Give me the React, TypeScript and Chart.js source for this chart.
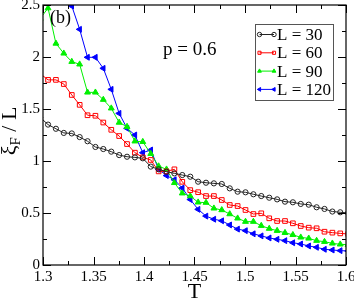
import React, { useEffect, useRef } from "react";
import { Chart, registerables } from "chart.js";
import { drawPoint } from "chart.js/helpers";

Chart.register(...registerables);

// Temperatures (first and last lie just outside the visible window)
const T = [
  1.2972, 1.305, 1.3128, 1.3206, 1.3285, 1.3363, 1.3441, 1.3519, 1.3597, 1.3676,
  1.3754, 1.3832, 1.391, 1.3988, 1.4067, 1.4145, 1.4223, 1.4301, 1.4379, 1.4458,
  1.4536, 1.4614, 1.4692, 1.477, 1.4849, 1.4927, 1.5005, 1.5083, 1.5161, 1.524,
  1.5318, 1.5396, 1.5474, 1.5552, 1.5631, 1.5709, 1.5787, 1.5865, 1.5943, 1.6021,
];

const L30 = [
  1.42, 1.35, 1.31, 1.27, 1.265, 1.23, 1.19, 1.135, 1.115, 1.09,
  1.057, 1.041, 1.035, 1.026, 0.946, 0.92, 0.897, 0.881, 0.865, 0.849,
  0.801, 0.791, 0.785, 0.779, 0.737, 0.705, 0.699, 0.68, 0.663, 0.647,
  0.631, 0.609, 0.603, 0.587, 0.58, 0.555, 0.539, 0.514, 0.507, 0.5,
];
const L60 = [
  1.84, 1.78, 1.78, 1.74, 1.635, 1.54, 1.44, 1.435, 1.37, 1.3,
  1.24, 1.163, 1.08, 1.035, 1.01, 0.9, 0.9, 0.92, 0.8, 0.72,
  0.7, 0.663, 0.663, 0.625, 0.577, 0.567, 0.529, 0.49, 0.497, 0.449,
  0.423, 0.423, 0.401, 0.375, 0.359, 0.353, 0.32, 0.311, 0.304, 0.298,
];
const L90 = [
  2.37, 2.47, 2.13, 2.035, 1.955, 1.93, 1.66, 1.66, 1.59, 1.507,
  1.37, 1.33, 1.19, 1.185, 1.07, 0.95, 0.92, 0.79, 0.69, 0.663,
  0.603, 0.6, 0.545, 0.529, 0.49, 0.449, 0.417, 0.417, 0.378, 0.35,
  0.33, 0.31, 0.29, 0.266, 0.256, 0.234, 0.224, 0.208, 0.199, 0.195,
];
const L120 = [
  3.4, 3.3, 3.15, 2.95, 2.49, 2.266, 1.997, 1.997, 1.891, 1.689,
  1.458, 1.314, 1.25, 1.08, 1.106, 0.92, 0.86, 0.82, 0.74, 0.63,
  0.535, 0.47, 0.44, 0.425, 0.385, 0.345, 0.33, 0.3, 0.28, 0.26,
  0.247, 0.234, 0.214, 0.202, 0.183, 0.17, 0.151, 0.144, 0.138, 0.135,
];

const seriesLabels = ["L = 30", "L = 60", "L = 90", "L = 120"];
const xTickValues = [1.3, 1.35, 1.4, 1.45, 1.5, 1.55, 1.6];
const xTickLabels = ["1.3", "1.35", "1.4", "1.45", "1.5", "1.55", "1.6"];
const yTickValues = [0, 0.5, 1, 1.5, 2, 2.5];
const yTickLabels = ["0", "0.5", "1", "1.5", "2", "2.5"];

const SERIF = '"Liberation Serif", "Times New Roman", serif';

const styles = [
  { color: "#222222", fill: "rgba(0,0,0,0)", pointStyle: "circle", radius: 2.6, rotation: 0 },
  { color: "#ff0000", fill: "rgba(0,0,0,0)", pointStyle: "rect", radius: 3.3, rotation: 0 },
  { color: "#00f000", fill: "#00f000", pointStyle: "triangle", radius: 3.4, rotation: 0 },
  { color: "#0000ff", fill: "#0000ff", pointStyle: "triangle", radius: 3.4, rotation: -90 },
];

const decorPlugin = {
  id: "decor",
  afterDraw(chart: any) {
    const ctx: CanvasRenderingContext2D = chart.ctx;
    const { left, right, top, bottom } = chart.chartArea;
    const xs = chart.scales.x;
    const ys = chart.scales.y;
    ctx.save();
    // frame
    ctx.strokeStyle = "#000";
    ctx.lineWidth = 1.2;
    ctx.strokeRect(left, top, right - left, bottom - top);
    // ticks
    ctx.lineWidth = 1;
    const xMinor: number[] = [];
    for (let i = 0; i < xTickValues.length - 1; i++) xMinor.push((xTickValues[i] + xTickValues[i + 1]) / 2);
    const yMinor: number[] = [];
    for (let i = 0; i < yTickValues.length - 1; i++) yMinor.push((yTickValues[i] + yTickValues[i + 1]) / 2);
    const drawX = (v: number, len: number) => {
      const px = Math.round(xs.getPixelForValue(v)) + 0.5;
      ctx.beginPath();
      ctx.moveTo(px, bottom);
      ctx.lineTo(px, bottom - len);
      ctx.moveTo(px, top);
      ctx.lineTo(px, top + len);
      ctx.stroke();
    };
    const drawY = (v: number, len: number) => {
      const py = Math.round(ys.getPixelForValue(v)) + 0.5;
      ctx.beginPath();
      ctx.moveTo(left, py);
      ctx.lineTo(left + len, py);
      ctx.moveTo(right, py);
      ctx.lineTo(right - len, py);
      ctx.stroke();
    };
    xTickValues.forEach((v) => drawX(v, 8));
    xMinor.forEach((v) => drawX(v, 4));
    yTickValues.forEach((v) => drawY(v, 8));
    yMinor.forEach((v) => drawY(v, 4));

    // tick labels
    ctx.fillStyle = "#000";
    ctx.font = `15px ${SERIF}`;
    ctx.textAlign = "center";
    ctx.textBaseline = "alphabetic";
    xTickValues.forEach((v, i) => {
      ctx.fillText(xTickLabels[i], xs.getPixelForValue(v), bottom + 16);
    });
    ctx.textAlign = "right";
    ctx.textBaseline = "middle";
    yTickValues.forEach((v, i) => {
      ctx.fillText(yTickLabels[i], left - 3, ys.getPixelForValue(v));
    });

    // x title
    ctx.textAlign = "center";
    ctx.textBaseline = "alphabetic";
    ctx.font = `22px ${SERIF}`;
    ctx.fillText("T", (left + right) / 2, 298);

    // y title (rotated) : ξ_F / L
    ctx.save();
    ctx.translate(16, (top + bottom) / 2 - 4);
    ctx.rotate(-Math.PI / 2);
    ctx.textAlign = "left";
    ctx.textBaseline = "alphabetic";
    const big = `22px ${SERIF}`;
    const small = `15px ${SERIF}`;
    ctx.font = big;
    const w1 = ctx.measureText("ξ").width;
    ctx.font = small;
    const w2 = ctx.measureText("F").width;
    ctx.font = big;
    const w3 = ctx.measureText(" / L").width;
    let x0 = -(w1 + w2 + w3) / 2;
    ctx.font = big;
    ctx.fillText("ξ", x0, 0);
    x0 += w1;
    ctx.font = small;
    ctx.fillText("F", x0, 4);
    x0 += w2;
    ctx.font = big;
    ctx.fillText(" / L", x0, 0);
    ctx.restore();

    // annotations
    ctx.textAlign = "left";
    ctx.font = `18px ${SERIF}`;
    ctx.fillText("(b)", 50, 23);
    ctx.font = `19px ${SERIF}`;
    ctx.fillText("p = 0.6", 163, 55);

    // legend
    const bx = 255, by = 24, bw = 78, bh = 76;
    ctx.fillStyle = "#fff";
    ctx.fillRect(bx, by, bw, bh);
    ctx.strokeStyle = "#555";
    ctx.lineWidth = 1;
    ctx.strokeRect(bx + 0.5, by + 0.5, bw, bh);
    ctx.font = `17px ${SERIF}`;
    ctx.textBaseline = "middle";
    seriesLabels.forEach((lab, i) => {
      const cy = 34.5 + i * 18.3;
      const st = styles[i];
      ctx.strokeStyle = st.color;
      ctx.lineWidth = 1;
      ctx.beginPath();
      ctx.moveTo(259.5, cy);
      ctx.lineTo(274, cy);
      ctx.stroke();
      [259.5, 274].forEach((mx) => {
        ctx.strokeStyle = st.color;
        ctx.fillStyle = st.fill;
        drawPoint(ctx, { pointStyle: st.pointStyle, radius: 2.2, rotation: st.rotation, borderWidth: 1 } as any, mx, cy);
      });
      ctx.fillStyle = "#000";
      ctx.fillText(lab, 277, cy + 1);
    });
    ctx.restore();
  },
};

export default function App() {
  const ref = useRef<HTMLCanvasElement | null>(null);
  useEffect(() => {
    if (!ref.current) return;
    const series = [L30, L60, L90, L120];
    const chart = new Chart(ref.current, {
      type: "line",
      data: {
        datasets: series.map((vals, i) => ({
          label: seriesLabels[i],
          data: T.map((t, j) => ({ x: t, y: vals[j] })),
          borderColor: styles[i].color,
          backgroundColor: styles[i].fill,
          borderWidth: 1,
          pointStyle: styles[i].pointStyle as any,
          pointRadius: styles[i].radius,
          pointRotation: styles[i].rotation,
          pointBorderColor: styles[i].color,
          pointBackgroundColor: styles[i].fill,
          pointBorderWidth: 1,
          tension: 0,
          fill: false,
          clip: 0,
        })),
      },
      options: {
        responsive: false,
        devicePixelRatio: 1,
        animation: false,
        events: [],
        layout: { padding: { left: 43, top: 5, right: 8, bottom: 35 } },
        plugins: { legend: { display: false }, tooltip: { enabled: false } },
        scales: {
          x: { type: "linear", min: 1.3, max: 1.6, display: false },
          y: { type: "linear", min: 0, max: 2.5, display: false },
        },
      },
      plugins: [decorPlugin],
    });
    return () => chart.destroy();
  }, []);
  return (
    <div style={{ position: "absolute", left: 0, top: 0, width: 354, height: 300, background: "#fff" }}>
      <canvas ref={ref} width={354} height={300} style={{ display: "block" }} />
    </div>
  );
}
